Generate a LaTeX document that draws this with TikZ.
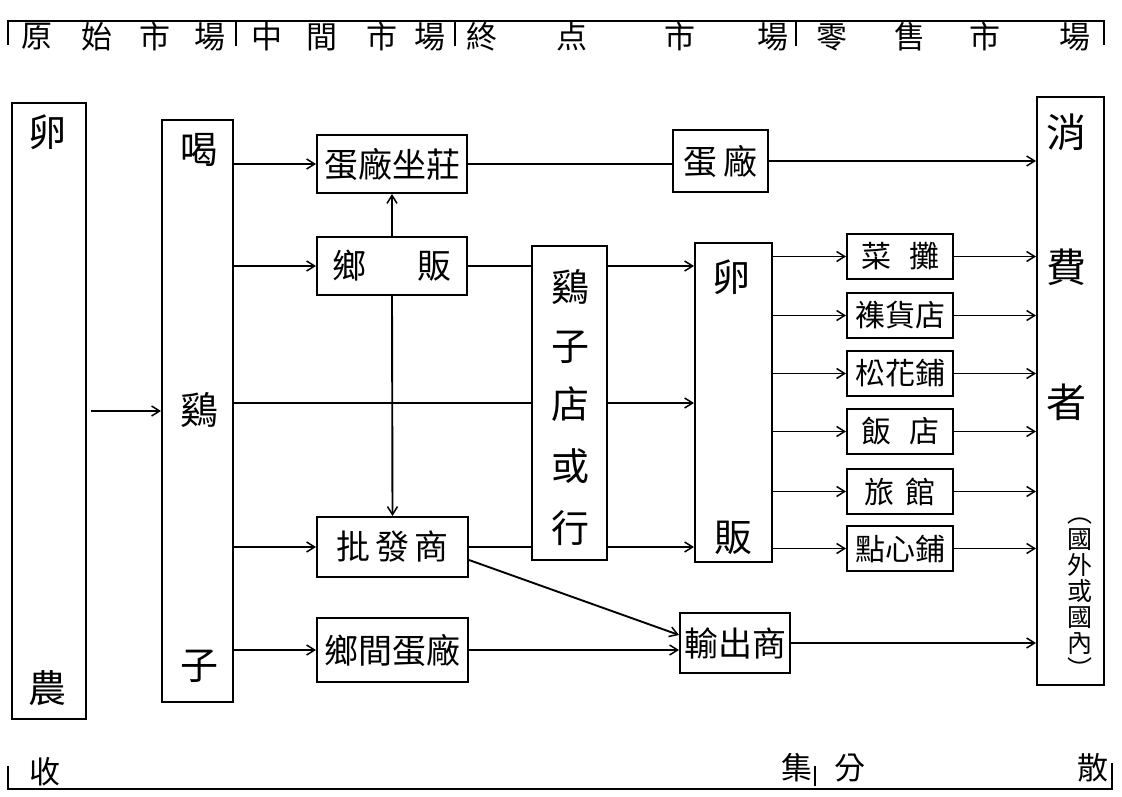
\documentclass[tikz,border=0pt]{standalone}
\usepackage{fontspec}
\setmainfont{Noto Sans CJK TC}
\usetikzlibrary{arrows.meta}
\begin{document}
\begin{tikzpicture}[x=1pt,y=-1pt,
  box/.style={draw, line width=2pt, inner sep=0pt, font=\fontsize{34}{34}\selectfont},
  rbox/.style={draw, line width=2pt, inner sep=0pt, minimum width=106pt, minimum height=45pt, font=\fontsize{30}{30}\selectfont},
  txt/.style={inner sep=0pt, font=\fontsize{38}{38}\selectfont},
  htxt/.style={inner sep=0pt, font=\fontsize{31}{31}\selectfont},
  ln/.style={line width=1.9pt},
  arr/.style={line width=1.9pt, -{Straight Barb[length=8pt,width=10pt,line width=1.5pt]}}]
\useasboundingbox (0,0) rectangle (1122,797);
% header
\draw[ln] (8,45) -- (8,21) -- (1104,21) -- (1104,45);
\foreach \xx in {236,455,796} \draw[ln] (\xx,21) -- (\xx,46);
\node[htxt] (h1) at (37,37) {原};
\node[htxt] (h2) at (97,37) {始};
\node[htxt] (h3) at (155,37) {市};
\node[htxt] (h4) at (210,37) {場};
\node[htxt] (h5) at (267,37) {中};
\node[htxt] (h6) at (322,37) {間};
\node[htxt] (h7) at (382,37) {市};
\node[htxt] (h8) at (430,37) {場};
\node[htxt] (h9) at (482,37) {終};
\node[htxt] (h10) at (572,37) {点};
\node[htxt] (h11) at (680,37) {市};
\node[htxt] (h12) at (773,37) {場};
\node[htxt] (h13) at (832,37) {零};
\node[htxt] (h14) at (910,37) {售};
\node[htxt] (h15) at (985,37) {市};
\node[htxt] (h16) at (1075,37) {場};
% footer
\draw[ln] (8,766) -- (8,789) -- (1112,789) -- (1112,763);
\draw[ln] (815,766) -- (815,786);
\node[htxt] (f1) at (45,772) {收};
\node[htxt] (f2) at (797,768) {集};
\node[htxt] (f3) at (850,768) {分};
\node[htxt] (f4) at (1093,768) {散};
% tall boxes
\node[box, minimum width=74pt, minimum height=616pt] (farm) at (49,411) {};
\node[txt] (farm1) at (47,132) {卵};
\node[txt] (farm2) at (47,688) {農};
\node[box, minimum width=71pt, minimum height=582pt] (chick) at (197.5,411) {};
\node[txt] (chick1) at (199,150) {喝};
\node[txt] (chick2) at (199,410) {鷄};
\node[txt] (chick3) at (199,666) {子};
\node[box, minimum width=75pt, minimum height=314pt] (jzd) at (569.5,403) {};
\node[txt] (jzd1) at (570,287) {鷄};
\node[txt] (jzd2) at (570,347) {子};
\node[txt] (jzd3) at (570,404) {店};
\node[txt] (jzd4) at (570,466) {或};
\node[txt] (jzd5) at (570,528) {行};
\node[box, minimum width=77pt, minimum height=319pt] (lf) at (733.5,402.5) {};
\node[txt] (lf1) at (731,277) {卵};
\node[txt] (lf2) at (733,538) {販};
\node[box, minimum width=67pt, minimum height=588pt] (cons) at (1070.5,391) {};
\node[txt, font=\fontsize{40}{40}\selectfont] (cons1) at (1066,132) {消};
\node[txt, font=\fontsize{40}{40}\selectfont] (cons2) at (1066,267) {費};
\node[txt, font=\fontsize{40}{40}\selectfont] (cons3) at (1066,402) {者};
\node[inner sep=0pt, align=center, font=\fontsize{25}{26}\selectfont] (cons4) at (1080,598) {︵\\國\\外\\或\\國\\內\\︶};
% middle boxes
\node[box, minimum width=150pt, minimum height=58pt] (zc) at (392,164) {蛋廠坐莊};
\node[box, minimum width=150pt, minimum height=58pt] (xf) at (392,266) {鄉\hspace{1.5em}販};
\node[box, minimum width=151pt, minimum height=60pt] (pf) at (392.5,547) {批\hspace{0.15em}發\hspace{0.15em}商};
\node[box, minimum width=151pt, minimum height=64pt] (xj) at (392.5,650) {鄉間蛋廠};
\node[box, minimum width=95pt, minimum height=62pt] (dc) at (720.5,161) {蛋\hspace{0.2em}廠};
\node[box, minimum width=110pt, minimum height=60pt] (sc) at (735,643) {輸出商};
% retail boxes
\node[rbox] (r1) at (900,256.5) {菜\hspace{0.6em}攤};
\node[rbox] (r2) at (900,315.5) {襍貨店};
\node[rbox] (r3) at (900,373.5) {松花鋪};
\node[rbox] (r4) at (900,431.5) {飯\hspace{0.6em}店};
\node[rbox] (r5) at (900,491.5) {旅\hspace{0.4em}館};
\node[rbox] (r6) at (900,548.5) {點心鋪};
% connectors
\draw[arr] ([xshift=4pt]farm.east) -- (chick.west);
\draw[arr] (chick.east |- zc) -- (zc.west);
\draw[arr] (chick.east |- xf) -- (xf.west);
\draw[arr] (chick.east |- pf) -- (pf.west);
\draw[arr] (chick.east |- xj) -- (xj.west);
\draw[ln] (chick.east |- jzd) -- (jzd.west);
\draw[arr] (jzd.east) -- (lf.west |- jzd.east);
\draw[arr] (xf.north) -- (zc.south);
\draw[arr] (xf.south) -- (pf.north);
\draw[ln] (xf.east) -- (xf.east -| jzd.west);
\draw[arr] (jzd.east |- xf) -- (lf.west |- xf);
\draw[ln] (pf.east) -- (pf.east -| jzd.west);
\draw[arr] (jzd.east |- pf) -- (lf.west |- pf);
\draw[ln] (zc.east) -- (zc.east -| dc.west);
\draw[arr] (dc.east) -- (dc.east -| cons.west);
\foreach \r in {r1,r2,r3,r4,r5,r6} {
  \draw[arr] (lf.east |- \r) -- (\r.west);
  \draw[arr] (\r.east) -- (\r.east -| cons.west);
}
\draw[arr] ([yshift=-13pt]pf.east) -- ([yshift=8pt]sc.west);
\draw[arr] (xj.east) -- (xj.east -| sc.west);
\draw[arr] (sc.east) -- (sc.east -| cons.west);
\end{tikzpicture}
\end{document}
